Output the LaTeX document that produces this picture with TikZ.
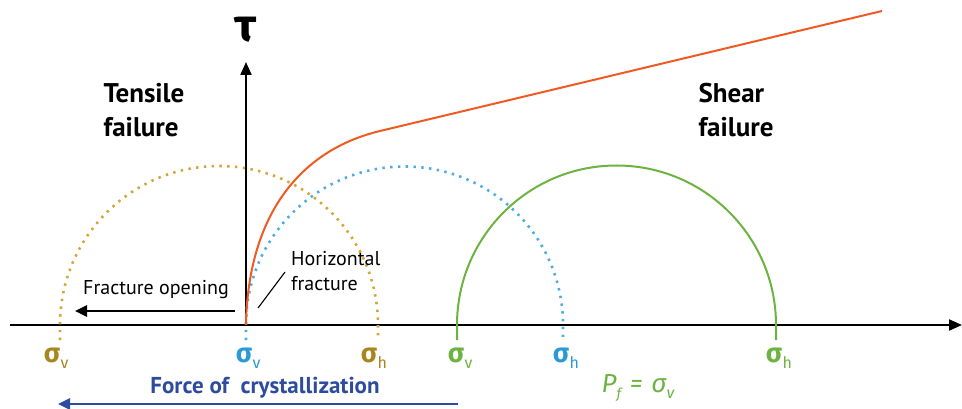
\documentclass[tikz,border=0pt]{standalone}
\usepackage{fontspec}
\setmainfont{PT Sans}
\newfontfamily\grk{Fira Sans}
\usetikzlibrary{arrows.meta}
\definecolor{gold}{HTML}{D4A537}
\definecolor{goldtxt}{HTML}{A8861E}
\definecolor{skyb}{HTML}{4AAEE0}
\definecolor{skybtxt}{HTML}{2A9AD4}
\definecolor{grn}{HTML}{6CB33F}
\definecolor{orng}{HTML}{F05A22}
\definecolor{dblue}{HTML}{2E4C9E}
\tikzset{
  axis/.style={line width=2pt, -{Triangle[length=13pt,width=11pt]}},
  dotc/.style={line width=2.6pt, dash pattern=on 2.4pt off 5.4pt},
  sig/.style={inner sep=0pt, anchor=base, font=\grk\bfseries\fontsize{27}{27}\selectfont},
  sub/.style={font=\grk\fontsize{16}{16}\selectfont},
  big/.style={font=\bfseries\fontsize{27}{34}\selectfont, align=left},
  note/.style={font=\fontsize{20}{25}\selectfont, align=left},
}
\begin{document}
\begin{tikzpicture}[x=1pt,y=-1pt]
\useasboundingbox (0,0) rectangle (962,409);
% axes
\coordinate (o) at (246,325);
\coordinate (xs) at (10,325);
\coordinate (xe) at (962,325);
\coordinate (ye) at (246,62);
\draw[axis] (xs) -- (xe);
\draw[axis] (o) -- (ye);
\node[font=\grk\bfseries\fontsize{46}{46}\selectfont, inner sep=0pt] (tau) at (246,30) {τ};
% circles
\draw[gold, dotc] (60,340) -- (60,325) arc[start angle=180, end angle=360, radius=159] -- (378,340);
\draw[skyb, dotc] (246,340) -- (246,325) arc[start angle=180, end angle=360, radius=158.5] -- (563,340);
\draw[grn, line width=2pt] (457,340) -- (457,325) arc[start angle=180, end angle=360, radius=159.5] -- (776,340);
% failure envelope
\coordinate (c1) at (380,131);
\coordinate (c2) at (882,11);
\draw[orng, line width=2pt] (o) .. controls (248,215) and (300,150.2) .. (c1) -- (c2);
% texts
\node[big, anchor=center] (tens) at (144,110) {Tensile\\failure};
\node[big, anchor=center] (shear) at (736,110) {Shear\\failure};
\node[note, anchor=west, inner sep=0pt] (hf) at (291,271) {Horizontal\\fracture};
\coordinate (hfa) at (285,272);
\coordinate (hfb) at (258,308);
\draw[line width=1.1pt] (hfa) -- (hfb);
\node[note, anchor=center, inner sep=0pt] (fo) at (156,290) {Fracture opening};
\coordinate (foa) at (235,311);
\coordinate (fob) at (75,311);
\draw[line width=2.6pt, -{Triangle[length=12pt,width=11pt]}] (foa) -- (fob);
% sigma labels
\node[sig, text=goldtxt] (s1) at (52,362) {σ};
\node[sub, text=goldtxt, anchor=base west, inner sep=0pt] at (s1.base east) {\raisebox{-6pt}{v}};
\node[sig, text=skybtxt] (s2) at (244,362) {σ};
\node[sub, text=skybtxt, anchor=base west, inner sep=0pt] at (s2.base east) {\raisebox{-6pt}{v}};
\node[sig, text=goldtxt] (s3) at (369,362) {σ};
\node[sub, text=goldtxt, anchor=base west, inner sep=0pt] at (s3.base east) {\raisebox{-6pt}{h}};
\node[sig, text=grn] (s4) at (456,362) {σ};
\node[sub, text=grn, anchor=base west, inner sep=0pt] at (s4.base east) {\raisebox{-6pt}{v}};
\node[sig, text=skybtxt] (s5) at (561,362) {σ};
\node[sub, text=skybtxt, anchor=base west, inner sep=0pt] at (s5.base east) {\raisebox{-6pt}{h}};
\node[sig, text=grn] (s6) at (774,362) {σ};
\node[sub, text=grn, anchor=base west, inner sep=0pt] at (s6.base east) {\raisebox{-6pt}{h}};
% force of crystallization
\node[font=\bfseries\fontsize{23}{23}\selectfont, text=dblue, inner sep=0pt] (fc) at (265,388) {Force of\ \ crystallization};
\coordinate (fca) at (458,404);
\coordinate (fcb) at (58,404);
\draw[dblue, line width=2.6pt, -{Triangle[length=12pt,width=11pt]}] (fca) -- (fcb);
% Pf
\node[text=grn, font=\grk\itshape\fontsize{26}{26}\selectfont, inner sep=0pt] (pf) at (638,388) {P\raisebox{-6pt}{\fontsize{14}{14}\selectfont f}\,\,=\,\,σ\raisebox{-6pt}{\fontsize{16}{16}\selectfont v}};
\end{tikzpicture}
\end{document}
